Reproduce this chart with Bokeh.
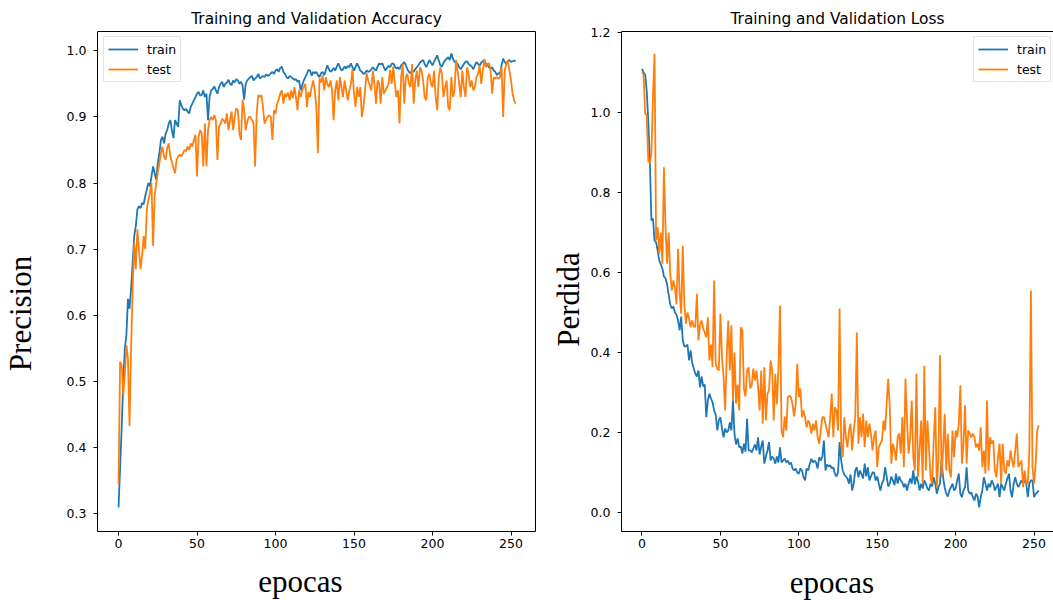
import math
from bokeh.plotting import figure
from bokeh.models import FixedTicker, LinearAxis, Label, Legend, LegendItem, Range1d, NumeralTickFormatter
from bokeh.layouts import row
from bokeh.embed import file_html
from bokeh.resources import INLINE

# ---------------- data ----------------
acc_train = [
    0.31, 0.37, 0.43, 0.50, 0.55, 0.57, 0.625, 0.61, 0.64, 0.68,
    0.72, 0.735, 0.76, 0.765, 0.762, 0.77, 0.768, 0.78, 0.79, 0.80,
    0.795, 0.81, 0.825, 0.815, 0.805, 0.83, 0.845, 0.865, 0.87, 0.86,
    0.875, 0.88, 0.89, 0.895, 0.88, 0.868, 0.895, 0.89, 0.885, 0.925,
    0.918, 0.912, 0.91, 0.912, 0.908, 0.905, 0.915, 0.92, 0.925, 0.93,
    0.935, 0.938, 0.932, 0.933, 0.94, 0.93, 0.935, 0.895, 0.93, 0.94,
    0.942, 0.946, 0.94, 0.935, 0.945, 0.95, 0.953, 0.945, 0.95, 0.952,
    0.956, 0.95, 0.948, 0.955, 0.952, 0.957, 0.955, 0.95, 0.953, 0.948,
    0.926, 0.95, 0.955, 0.958, 0.96, 0.962, 0.955, 0.958, 0.96, 0.965,
    0.958, 0.96, 0.962, 0.96, 0.964, 0.962, 0.963, 0.966, 0.968, 0.965,
    0.97, 0.972, 0.968, 0.974, 0.976, 0.968, 0.965, 0.96, 0.958, 0.962,
    0.96, 0.958, 0.956, 0.957, 0.953, 0.955, 0.94, 0.948, 0.955, 0.96,
    0.965, 0.971, 0.97, 0.962, 0.968, 0.966, 0.968, 0.963, 0.96, 0.966,
    0.968, 0.963, 0.97, 0.978, 0.972, 0.968, 0.97, 0.974, 0.97, 0.976,
    0.981, 0.975, 0.97, 0.972, 0.976, 0.973, 0.977, 0.975, 0.981, 0.975,
    0.97, 0.976, 0.981, 0.976, 0.97, 0.968, 0.965, 0.966, 0.97, 0.968,
    0.969, 0.972, 0.975, 0.972, 0.97, 0.976, 0.981, 0.979, 0.981, 0.975,
    0.97, 0.974, 0.977, 0.975, 0.98, 0.981, 0.976, 0.973, 0.975, 0.972,
    0.978, 0.98, 0.983, 0.978, 0.972, 0.968, 0.966, 0.97, 0.968, 0.972,
    0.975, 0.978, 0.982, 0.984, 0.986, 0.98, 0.975, 0.98, 0.986, 0.982,
    0.978, 0.983, 0.988, 0.993, 0.985, 0.978, 0.976, 0.982, 0.985, 0.988,
    0.99, 0.986, 0.996, 0.988, 0.983, 0.982, 0.98, 0.975, 0.972, 0.976,
    0.98, 0.983, 0.984, 0.98, 0.978, 0.976, 0.972, 0.978, 0.983, 0.98,
    0.977, 0.982, 0.984, 0.986, 0.98, 0.978, 0.975, 0.973, 0.975, 0.97,
    0.968, 0.963, 0.966, 0.965, 0.978, 0.988, 0.983, 0.98, 0.984, 0.986,
    0.983, 0.984, 0.985, 0.984,
]

acc_test = [
    0.345, 0.53, 0.525, 0.48, 0.51, 0.555, 0.535, 0.433, 0.55, 0.64,
    0.71, 0.67, 0.73, 0.70, 0.67, 0.69, 0.72, 0.70, 0.76, 0.775,
    0.785, 0.80, 0.705, 0.78, 0.80, 0.815, 0.83, 0.845, 0.855, 0.84,
    0.835, 0.853, 0.86, 0.84, 0.832, 0.822, 0.815, 0.835, 0.84, 0.843,
    0.84, 0.845, 0.85, 0.848, 0.855, 0.85, 0.86, 0.855, 0.865, 0.873,
    0.81, 0.87, 0.88, 0.875, 0.825, 0.89, 0.825, 0.88, 0.895, 0.90,
    0.895, 0.903, 0.895, 0.835, 0.885, 0.89, 0.897, 0.895, 0.89, 0.905,
    0.88, 0.895, 0.908, 0.88, 0.90, 0.913, 0.91, 0.875, 0.865, 0.926,
    0.91, 0.88, 0.893, 0.90, 0.90, 0.895, 0.89, 0.825, 0.905, 0.933,
    0.93, 0.933, 0.915, 0.89, 0.895, 0.90, 0.902, 0.90, 0.865, 0.91,
    0.905, 0.92, 0.926, 0.935, 0.94, 0.92, 0.935, 0.93, 0.937, 0.925,
    0.94, 0.928, 0.945, 0.93, 0.91, 0.94, 0.93, 0.94, 0.945, 0.95,
    0.915, 0.938, 0.93, 0.945, 0.955, 0.94, 0.915, 0.845, 0.958, 0.952,
    0.963, 0.94, 0.96, 0.95, 0.945, 0.955, 0.94, 0.895, 0.94, 0.955,
    0.925, 0.96, 0.945, 0.93, 0.955, 0.94, 0.925, 0.94, 0.95, 0.971,
    0.935, 0.915, 0.945, 0.93, 0.945, 0.90, 0.915, 0.94, 0.966, 0.955,
    0.948, 0.94, 0.97, 0.95, 0.92, 0.955, 0.95, 0.92, 0.96, 0.935,
    0.94, 0.945, 0.95, 0.971, 0.95, 0.976, 0.95, 0.93, 0.94, 0.89,
    0.96, 0.98, 0.92, 0.96, 0.965, 0.95, 0.945, 0.98, 0.92, 0.955,
    0.97, 0.945, 0.975, 0.97, 0.955, 0.93, 0.925, 0.96, 0.965, 0.95,
    0.945, 0.97, 0.93, 0.91, 0.96, 0.975, 0.965, 0.93, 0.945, 0.955,
    0.915, 0.91, 0.96, 0.93, 0.94, 0.986, 0.97, 0.95, 0.93, 0.97,
    0.945, 0.93, 0.975, 0.965, 0.945, 0.955, 0.94, 0.945, 0.96, 0.965,
    0.978, 0.95, 0.97, 0.986, 0.975, 0.98, 0.981, 0.97, 0.935, 0.96,
    0.958, 0.96, 0.958, 0.96, 0.975, 0.90, 0.97, 0.98, 0.985, 0.97,
    0.955, 0.935, 0.925, 0.92,
]

loss_train = [
    1.109, 1.10, 1.095, 1.055, 0.98, 0.88, 0.73, 0.735, 0.68, 0.675,
    0.655, 0.63, 0.62, 0.61, 0.59, 0.585, 0.57, 0.545, 0.52, 0.51,
    0.515, 0.50, 0.495, 0.48, 0.455, 0.49, 0.43, 0.415, 0.415, 0.42,
    0.38, 0.405, 0.375, 0.36, 0.347, 0.34, 0.355, 0.313, 0.34, 0.315,
    0.32, 0.238, 0.28, 0.297, 0.285, 0.275, 0.255, 0.245, 0.205, 0.23,
    0.238, 0.21, 0.188, 0.21, 0.20, 0.205, 0.225, 0.205, 0.28, 0.195,
    0.17, 0.185, 0.163, 0.165, 0.147, 0.172, 0.152, 0.234, 0.155, 0.155,
    0.15, 0.16, 0.17, 0.155, 0.188, 0.145, 0.165, 0.18, 0.122, 0.14,
    0.155, 0.176, 0.13, 0.14, 0.135, 0.122, 0.14, 0.125, 0.163, 0.125,
    0.13, 0.135, 0.125, 0.13, 0.12, 0.125, 0.11, 0.105, 0.11, 0.10,
    0.097, 0.11, 0.105, 0.088, 0.08, 0.11, 0.105, 0.122, 0.134, 0.125,
    0.13, 0.125, 0.11, 0.138, 0.13, 0.14, 0.18, 0.105, 0.12, 0.115,
    0.118, 0.11, 0.113, 0.097, 0.09, 0.10, 0.176, 0.13, 0.105, 0.095,
    0.09, 0.085, 0.072, 0.095, 0.055, 0.072, 0.105, 0.113, 0.088, 0.105,
    0.095, 0.085, 0.122, 0.09, 0.113, 0.08, 0.09, 0.10, 0.10, 0.08,
    0.09, 0.072, 0.055, 0.072, 0.08, 0.113, 0.09, 0.065, 0.072, 0.09,
    0.08, 0.068, 0.097, 0.072, 0.09, 0.08, 0.075, 0.063, 0.072, 0.055,
    0.072, 0.085, 0.072, 0.105, 0.07, 0.09, 0.078, 0.055, 0.072, 0.06,
    0.08, 0.072, 0.06, 0.055, 0.072, 0.065, 0.088, 0.072, 0.047, 0.063,
    0.072, 0.13, 0.088, 0.063, 0.047, 0.04, 0.055, 0.063, 0.072, 0.055,
    0.06, 0.08, 0.097, 0.047, 0.038, 0.055, 0.063, 0.113, 0.055, 0.047,
    0.05, 0.038, 0.03, 0.047, 0.04, 0.013, 0.038, 0.055, 0.088, 0.072,
    0.055, 0.072, 0.063, 0.08, 0.072, 0.055, 0.063, 0.072, 0.038, 0.072,
    0.063, 0.055, 0.072, 0.085, 0.097, 0.055, 0.038, 0.072, 0.088, 0.072,
    0.063, 0.072, 0.08, 0.072, 0.08, 0.072, 0.038, 0.072, 0.08, 0.08,
    0.038, 0.047, 0.05, 0.055,
]

loss_test = [
    1.10, 1.095, 0.997, 0.993, 0.88, 0.872, 0.897, 1.038, 1.147, 0.68,
    0.713, 0.647, 0.70, 0.622, 0.863, 0.713, 0.622, 0.70, 0.597, 0.555,
    0.58, 0.563, 0.52, 0.659, 0.55, 0.497, 0.667, 0.52, 0.472, 0.50,
    0.485, 0.463, 0.48, 0.465, 0.463, 0.547, 0.43, 0.47, 0.48, 0.46,
    0.45, 0.438, 0.488, 0.38, 0.42, 0.363, 0.58, 0.372, 0.36, 0.355,
    0.497, 0.39, 0.34, 0.255, 0.39, 0.48, 0.355, 0.468, 0.28, 0.40,
    0.272, 0.32, 0.255, 0.463, 0.455, 0.31, 0.29, 0.355, 0.363, 0.31,
    0.318, 0.36, 0.33, 0.355, 0.315, 0.255, 0.355, 0.222, 0.363, 0.23,
    0.297, 0.305, 0.38, 0.355, 0.23, 0.347, 0.27, 0.36, 0.517, 0.205,
    0.188, 0.24, 0.205, 0.288, 0.292, 0.288, 0.27, 0.24, 0.27, 0.372,
    0.288, 0.31, 0.238, 0.255, 0.238, 0.213, 0.23, 0.222, 0.197, 0.222,
    0.205, 0.23, 0.188, 0.172, 0.205, 0.238, 0.238, 0.222, 0.205, 0.188,
    0.238, 0.297, 0.188, 0.263, 0.255, 0.205, 0.51, 0.172, 0.138, 0.238,
    0.188, 0.163, 0.205, 0.222, 0.155, 0.205, 0.238, 0.45, 0.172, 0.238,
    0.188, 0.247, 0.163, 0.23, 0.188, 0.222, 0.197, 0.155, 0.188, 0.205,
    0.113, 0.163, 0.172, 0.18, 0.23, 0.205, 0.272, 0.334, 0.263, 0.122,
    0.172, 0.155, 0.13, 0.188, 0.197, 0.147, 0.238, 0.113, 0.334, 0.23,
    0.147, 0.188, 0.28, 0.138, 0.105, 0.347, 0.088, 0.155, 0.23, 0.072,
    0.367, 0.105, 0.23, 0.163, 0.088, 0.072, 0.18, 0.263, 0.063, 0.13,
    0.393, 0.088, 0.155, 0.247, 0.105, 0.197, 0.105, 0.088, 0.205, 0.138,
    0.205, 0.188, 0.222, 0.318, 0.122, 0.172, 0.268, 0.122, 0.205, 0.197,
    0.188, 0.197, 0.188, 0.163, 0.172, 0.155, 0.213, 0.113, 0.155, 0.097,
    0.28, 0.105, 0.188, 0.172, 0.18, 0.105, 0.088, 0.138, 0.172, 0.072,
    0.172, 0.105, 0.097, 0.13, 0.115, 0.155, 0.13, 0.113, 0.155, 0.197,
    0.113, 0.122, 0.13, 0.063, 0.105, 0.072, 0.072, 0.155, 0.555, 0.113,
    0.072, 0.122, 0.205, 0.218,
]

x_ticks = [0, 50, 100, 150, 200, 250]
x_tick_labels = ["0", "50", "100", "150", "200", "250"]
acc_ticks = [0.3, 0.4, 0.5, 0.6, 0.7, 0.8, 0.9, 1.0]
acc_tick_labels = ["0.3", "0.4", "0.5", "0.6", "0.7", "0.8", "0.9", "1.0"]
loss_ticks = [0.0, 0.2, 0.4, 0.6, 0.8, 1.0, 1.2]
loss_tick_labels = ["0.0", "0.2", "0.4", "0.6", "0.8", "1.0", "1.2"]
series_names = ["train", "test"]
titles = ["Training and Validation Accuracy", "Training and Validation Loss"]
y_labels = ["Precision", "Perdida"]
x_label = "epocas"

# ---------------- style ----------------
BLUE = "#1f77b4"
ORANGE = "#ff7f0e"
SANS = "DejaVu Sans"
SERIF = "Liberation Serif"
TICK_SIZE = "12.5px"


def make_fig(width, x_rng, y_rng, border_left, border_right, title, yticks, ylabels):
    p = figure(width=width, height=600, x_range=Range1d(*x_rng), y_range=Range1d(*y_rng),
               min_border_left=border_left, min_border_right=border_right,
               min_border_top=31, min_border_bottom=69,
               toolbar_location=None, tools="", output_backend="svg", title=title)
    p.background_fill_color = "white"
    p.border_fill_color = "white"
    p.grid.visible = False
    p.title.text_font = SANS
    p.title.text_font_size = "15.4px"
    p.title.text_font_style = "normal"
    p.title.text_color = "black"
    p.title.align = "center"
    p.title.standoff = 8
    for ax in (p.xaxis[0], p.yaxis[0]):
        ax.major_tick_out = 4
        ax.major_tick_in = 0
        ax.minor_tick_out = 0
        ax.minor_tick_in = 0
        ax.major_tick_line_color = "black"
        ax.major_label_text_font = SANS
        ax.major_label_text_font_size = TICK_SIZE
        ax.major_label_text_color = "black"
    p.xaxis.ticker = FixedTicker(ticks=x_ticks)
    p.xaxis.major_label_overrides = dict(zip(x_ticks, x_tick_labels))
    p.xaxis.major_label_standoff = 3
    p.yaxis.ticker = FixedTicker(ticks=yticks)
    p.yaxis.formatter = NumeralTickFormatter(format="0.0")
    p.yaxis.major_label_overrides = dict(zip(yticks, ylabels))
    p.yaxis.major_label_standoff = 7
    return p


def add_lines(p, ys, legend_loc):
    renderers = []
    for vals, color in zip(ys, (BLUE, ORANGE)):
        r = p.line(list(range(len(vals))), vals, line_color=color, line_width=1.8)
        renderers.append(r)
    legend = Legend(items=[LegendItem(label=n, renderers=[r]) for n, r in zip(series_names, renderers)],
                    location=legend_loc)
    legend.label_text_font = SANS
    legend.label_text_font_size = TICK_SIZE
    legend.label_text_color = "black"
    legend.glyph_width = 30
    legend.glyph_height = 16
    legend.label_height = 16
    legend.label_standoff = 9
    legend.spacing = 4
    legend.padding = 4
    legend.margin = 0
    legend.border_line_color = "#cccccc"
    legend.border_line_width = 1
    legend.background_fill_color = "white"
    legend.background_fill_alpha = 0.8
    p.add_layout(legend)


def big_label(p, side, text, x, y, angle=0.0):
    p.add_layout(Label(x=x, y=y, x_units="screen", y_units="screen", text=text,
                       text_font=SERIF, text_font_size="31px", text_color="black",
                       text_align="center", text_baseline="alphabetic", angle=angle), side)


# left: accuracy
p1 = make_fig(550, (-13.4, 265.6), (0.2735, 1.029), 97, 15, titles[0], acc_ticks, acc_tick_labels)
p1.outline_line_color = "black"
p1.outline_line_width = 1
p1.outline_line_alpha = 1.0
p1.xaxis.axis_line_color = None
p1.yaxis.axis_line_color = None
add_lines(p1, [acc_train, acc_test], (6, 449))
big_label(p1, "below", x_label, 203, 4.5)
big_label(p1, "left", y_labels[0], -8.5, 218, math.pi / 2)

# right: loss
p2 = make_fig(503, (-13.07, 262.4), (-0.0476, 1.2025), 71, 0, titles[1], loss_ticks, loss_tick_labels)
p2.outline_line_color = None
p2.xaxis.axis_line_color = "black"
p2.yaxis.axis_line_color = "black"
top = LinearAxis(ticker=FixedTicker(ticks=[]), major_tick_out=0, major_tick_in=0,
                 minor_tick_out=0, minor_tick_in=0, major_label_standoff=0,
                 axis_line_color="black", major_label_text_font_size="0px")
p2.add_layout(top, "above")
add_lines(p2, [loss_train, loss_test], (352, 449))
big_label(p2, "below", x_label, 210.5, 3)
big_label(p2, "left", y_labels[1], 15.5, 232, math.pi / 2)

layout = row(p1, p2)
open("out.html", "w").write(file_html(layout, INLINE))
